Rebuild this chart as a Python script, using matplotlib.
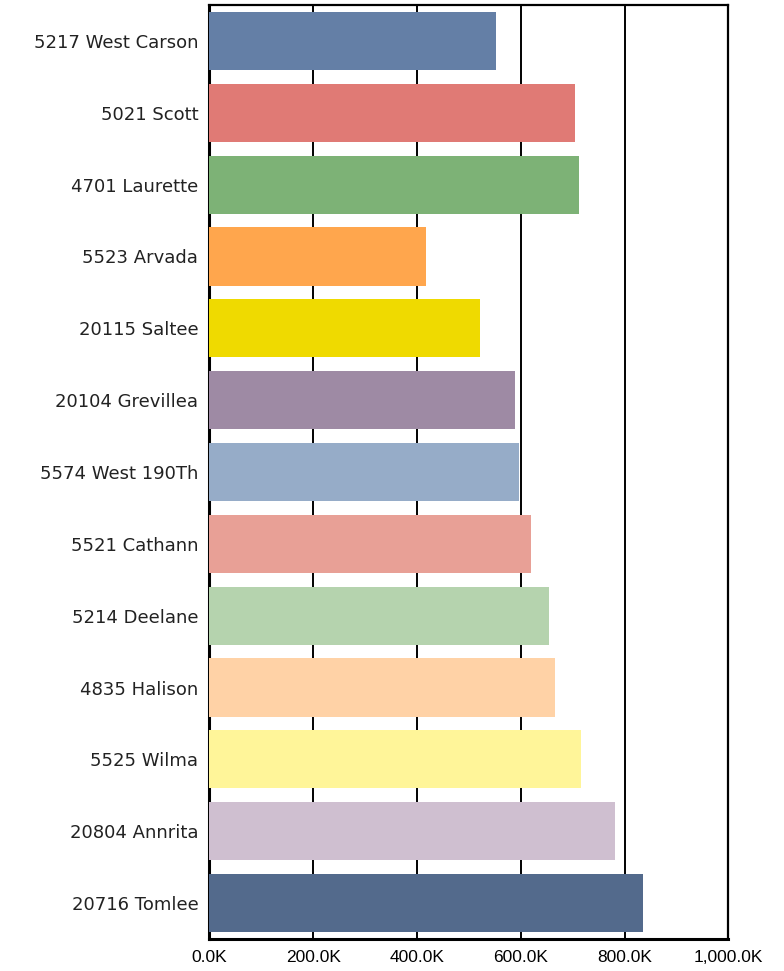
import matplotlib.pyplot as plt
from matplotlib.ticker import FuncFormatter

streets = ['5217 West Carson', '5021 Scott', '4701 Laurette', '5523 Arvada',
           '20115 Saltee', '20104 Grevillea', '5574 West 190Th', '5521 Cathann',
           '5214 Deelane', '4835 Halison', '5525 Wilma', '20804 Annrita',
           '20716 Tomlee']
values = [552, 704, 712, 417, 521, 588, 596, 619, 654, 665, 715, 781, 835]
colors = ['#647FA6', '#E07A75', '#7DB276', '#FFA64D', '#EFDA00', '#9E8AA4',
          '#96ACC8', '#E8A096', '#B5D3AE', '#FFD2A6', '#FFF599', '#CFBFD0',
          '#536A8C']
xticks = [0, 200, 400, 600, 800, 1000]

fig = plt.figure(figsize=(7.84, 9.71), dpi=100)
ax = fig.add_axes([0.2672, 0.0330, 0.662, 0.9618])

ax.barh(range(len(streets)), values, height=0.81, color=colors, zorder=3)
ax.set_yticks(range(len(streets)))
ax.set_yticklabels(streets, fontsize=13, family='DejaVu Sans', color='#222222')
ax.set_ylim(len(streets) - 0.5, -0.5)

ax.set_xlim(0, 1000)
ax.set_xticks(xticks)
ax.xaxis.set_major_formatter(FuncFormatter(lambda v, p: '{:,.1f}K'.format(v)))
for lab in ax.get_xticklabels():
    lab.set_family('Liberation Sans')
    lab.set_fontsize(12.5)
    lab.set_color('black')

ax.tick_params(axis='y', length=0, pad=8)
ax.tick_params(axis='x', length=0, pad=8)
ax.grid(axis='x', color='black', linewidth=1.4, zorder=1)

for s in ax.spines.values():
    s.set_linewidth(1.6)
    s.set_color('black')
ax.spines['left'].set_linewidth(2.2)
ax.spines['bottom'].set_linewidth(2.2)

plt.savefig('out.png', dpi=100)
